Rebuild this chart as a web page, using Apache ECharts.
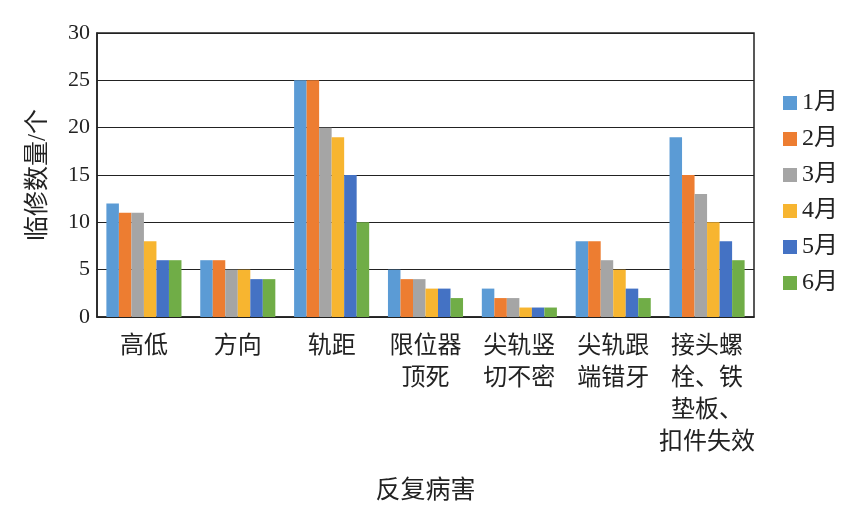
<!DOCTYPE html>
<html>
<head>
<meta charset="utf-8">
<script src="https://cdn.jsdelivr.net/npm/echarts@6/dist/echarts.min.js"></script>
<style>
  html, body { margin: 0; padding: 0; background: #fff; }
  #chart { width: 850px; height: 515px; }
</style>
</head>
<body>
<div id="chart"></div>
<script>
const categories = [
  "高低",
  "方向",
  "轨距",
  "限位器\n顶死",
  "尖轨竖\n切不密",
  "尖轨跟\n端错牙",
  "接头螺\n栓、铁\n垫板、\n扣件失效",
];
const months = ["1月", "2月", "3月", "4月", "5月", "6月"];
const jan = [12, 6, 25, 5, 3, 8, 19];
const feb = [11, 6, 25, 4, 2, 8, 15];
const mar = [11, 5, 20, 4, 2, 6, 13];
const apr = [8, 5, 19, 3, 1, 5, 10];
const may = [6, 4, 15, 3, 1, 3, 8];
const jun = [6, 4, 10, 2, 1, 2, 6];
const yTicks = [0, 5, 10, 15, 20, 25, 30];

const colors = ["#5B9BD5", "#ED7D31", "#A5A5A5", "#F7B530", "#4472C4", "#70AD47"];
const font = "'Liberation Serif', 'Noto Sans CJK SC', serif";

window.addEventListener("DOMContentLoaded", function () {
  const chart = echarts.init(document.getElementById("chart"));
  const seriesData = [jan, feb, mar, apr, may, jun];

  const options = {
    animation: false,
    color: colors,
    grid: {
      left: 97,
      right: 96,
      top: 33,
      bottom: 198,
      show: true,
      borderColor: "#222",
      borderWidth: 1.5,
    },
    legend: {
      orient: "vertical",
      left: 778,
      top: 86,
      itemWidth: 14,
      itemHeight: 14,
      itemGap: 12,
      icon: "rect",
      textStyle: { fontFamily: font, fontSize: 24, color: "#222" },
      data: months,
    },
    xAxis: {
      type: "category",
      data: categories,
      name: "反复病害",
      nameLocation: "middle",
      nameGap: 162,
      nameTextStyle: { fontFamily: font, fontSize: 25, color: "#222" },
      axisLine: { lineStyle: { color: "#222", width: 1.5 } },
      axisTick: { show: false },
      axisLabel: {
        interval: 0,
        fontFamily: font,
        fontSize: 24,
        lineHeight: 32,
        color: "#222",
        margin: 14,
        verticalAlign: "top",
      },
    },
    yAxis: {
      type: "value",
      min: 0,
      max: 30,
      interval: 5,
      name: "临修数量/个",
      nameLocation: "middle",
      nameGap: 46,
      nameTextStyle: { fontFamily: font, fontSize: 25, color: "#222" },
      axisLine: { show: true, lineStyle: { color: "#222", width: 1.5 } },
      axisTick: { show: false },
      axisLabel: {
        fontFamily: font,
        fontSize: 22,
        color: "#222",
        margin: 7,
        formatter: (v) => (yTicks.includes(v) ? String(v) : ""),
      },
      splitLine: { lineStyle: { color: "#222", width: 1.2 } },
    },
    series: months.map((name, i) => ({
      name: name,
      type: "bar",
      data: seriesData[i],
      barGap: "0%",
      barCategoryGap: "20%",
    })),
  };

  chart.setOption(options);
});
</script>
</body>
</html>
